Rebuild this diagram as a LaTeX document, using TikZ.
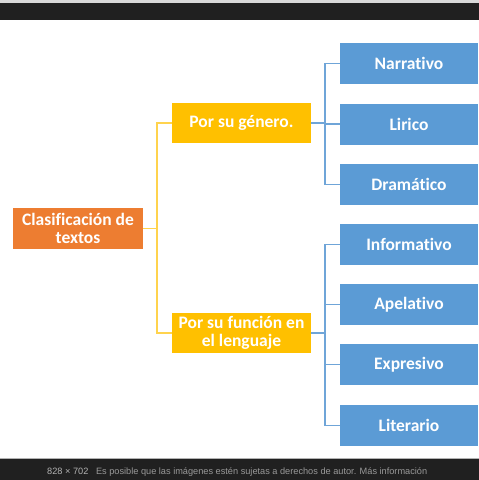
\documentclass[tikz,border=0pt]{standalone}
\usepackage{fontspec}
\setmainfont[Ligatures=NoCommon]{Carlito}
\newfontfamily\barfont{Liberation Sans}
\definecolor{orng}{HTML}{ED7D31}
\definecolor{ylw}{HTML}{FFC000}
\definecolor{blu}{HTML}{5B9BD5}
\definecolor{ylwline}{HTML}{FFD34D}
\definecolor{bluline}{HTML}{6FA5D8}
\definecolor{barbg}{HTML}{202020}
\begin{document}
\begin{tikzpicture}[x=1pt,y=-1pt,
  box/.style={draw=none,text=white,font=\fontsize{17.5}{17.5}\selectfont\bfseries,align=center,inner sep=0pt},
  obox/.style={box,fill=orng,minimum width=130pt,minimum height=41pt},
  ybox/.style={box,fill=ylw,minimum width=139pt,minimum height=40pt},
  bbox/.style={box,fill=blu,minimum width=138pt,minimum height=41pt},
  yline/.style={draw=ylwline,line width=1.5pt},
  bline/.style={draw=bluline,line width=1.5pt}]
\useasboundingbox (0,0) rectangle (479,480);
\fill[white] (0,0) rectangle (479,480);
\fill[gray!30] (0,0) rectangle (479,3);
\fill[barbg] (0,3) rectangle (479,20);
\fill[barbg] (0,458) rectangle (479,480);
\draw[gray!60,line width=0.8pt] (0,458) -- (479,458);
\node[anchor=west,text=gray!80,font=\barfont\fontsize{9.2}{10}\selectfont,inner sep=0pt] (bartxt) at (47,472.5) {{\color{gray!60}828 × 702} \ \ Es posible que las imágenes estén sujetas a derechos de autor. Más información};

\node[obox] (root) at (78,228.5) {Clasificación de\\textos};
\node[ybox] (gen) at (241.5,123) {Por su género.};
\node[ybox] (fun) at (241.5,333) {Por su función en\\el lenguaje};

\node[bbox] (nar) at (409,63.5) {Narrativo};
\node[bbox] (lir) at (409,124) {Lirico};
\node[bbox] (dra) at (409,184.5) {Dramático};
\node[bbox] (inf) at (409,244.5) {Informativo};
\node[bbox] (ape) at (409,304.5) {Apelativo};
\node[bbox] (exp) at (409,364.5) {Expresivo};
\node[bbox] (lit) at (409,425.5) {Literario};

\draw[yline] (root.east) -- ++(14,0) |- (gen.west);
\draw[yline] (root.east) -- ++(14,0) |- (fun.west);

\foreach \t in {nar,lir,dra}{\draw[bline] (gen.east) -- ++(14,0) |- (\t.west);}
\foreach \t in {inf,ape,exp,lit}{\draw[bline] (fun.east) -- ++(14,0) |- (\t.west);}
\end{tikzpicture}
\end{document}
